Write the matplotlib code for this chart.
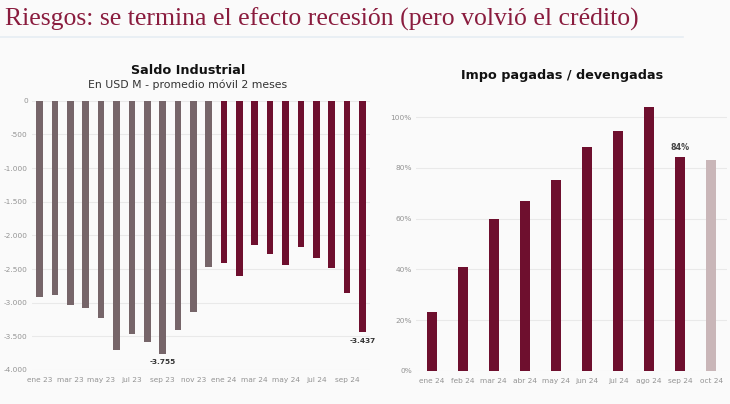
import matplotlib
matplotlib.use("Agg")
import matplotlib.pyplot as plt
from matplotlib.ticker import FuncFormatter, FixedLocator

# ---------------- data ----------------
saldo_months = ["ene 23", "feb 23", "mar 23", "abr 23", "may 23", "jun 23",
                "jul 23", "ago 23", "sep 23", "oct 23", "nov 23", "dic 23",
                "ene 24", "feb 24", "mar 24", "abr 24", "may 24", "jun 24",
                "jul 24", "ago 24", "sep 24", "oct 24"]
saldo_values = [-2910, -2890, -3040, -3080, -3230, -3700, -3470, -3590, -3755,
                -3400, -3140, -2470, -2410, -2600, -2150, -2280, -2440, -2170,
                -2330, -2490, -2850, -3437]
saldo_year = ["2023"] * 12 + ["2024"] * 10

impo_months = ["ene 24", "feb 24", "mar 24", "abr 24", "may 24", "jun 24",
               "jul 24", "ago 24", "sep 24", "oct 24"]
impo_values = [0.232, 0.409, 0.598, 0.671, 0.753, 0.882, 0.946, 1.040, 0.842, 0.831]
impo_partial = [False] * 9 + [True]

# ---------------- style ----------------
W, H = 730, 404
BG = "#FAFAFA"
GREY_BAR = "#766569"
MAROON = "#6E0F2E"
LIGHT = "#C9B6B8"
TITLE_COL = "#8A1C3E"
GRID = "#E9E9E9"
TICK_COL = "#939393"
FONT = "DejaVu Sans"

fig = plt.figure(figsize=(W / 100, H / 100), dpi=100, facecolor=BG)


def px_axes(x0, x1, ytop, ybot):
    return fig.add_axes([x0 / W, 1 - ybot / H, (x1 - x0) / W, (ybot - ytop) / H])


# main title + separator line
fig.text(5 / W, 1 - 19 / H,
         "Riesgos: se termina el efecto recesión (pero volvió el crédito)",
         family="Liberation Serif", fontsize=18.5, color=TITLE_COL,
         va="center", ha="left")
fig.add_artist(plt.Line2D([0, 683 / W], [1 - 37 / H, 1 - 37 / H],
                          color="#E6EDF3", lw=1.2))

# ---------------- left chart ----------------
ax1 = px_axes(32, 370, 100.7, 370)
ax1.set_facecolor(BG)
x1 = list(range(len(saldo_values)))
cols1 = [GREY_BAR if y == "2023" else MAROON for y in saldo_year]
ax1.bar(x1, saldo_values, width=0.43, color=cols1, zorder=3)
ax1.set_xlim(-0.5, len(saldo_values) - 0.5)
ax1.set_ylim(-4000, 0)
ax1.yaxis.set_major_locator(FixedLocator(list(range(-4000, 1, 500))))
ax1.yaxis.set_major_formatter(
    FuncFormatter(lambda v, p: f"{int(v):,}".replace(",", ".")))
ax1.set_xticks(x1[::2])
ax1.set_xticklabels(saldo_months[::2])
ax1.grid(axis="y", color=GRID, lw=0.8, zorder=0)
for s in ax1.spines.values():
    s.set_visible(False)
ax1.tick_params(length=0, labelsize=5.3, colors=TICK_COL, pad=3)
ax1.tick_params(axis="x", pad=5)
for lab in ax1.get_xticklabels() + ax1.get_yticklabels():
    lab.set_family(FONT)

for i in (8, 21):
    v = saldo_values[i]
    ax1.annotate(f"{v:,}".replace(",", "."), (x1[i], v), xytext=(0, -4),
                 textcoords="offset points", ha="center", va="top",
                 fontsize=5.3, fontweight="bold", color="#333333", family=FONT)

fig.text(188 / W, 1 - 70 / H, "Saldo Industrial", ha="center", va="center",
         fontsize=9.2, fontweight="bold", color="#111111", family=FONT)
fig.text(188 / W, 1 - 85 / H, "En USD M - promedio móvil 2 meses",
         ha="center", va="center", fontsize=7.8, color="#333333", family=FONT)

# ---------------- right chart ----------------
ax2 = px_axes(416, 727, 91.9, 370.7)
ax2.set_facecolor(BG)
x2 = list(range(len(impo_values)))
cols2 = [LIGHT if p else MAROON for p in impo_partial]
ax2.bar(x2, impo_values, width=0.32, color=cols2, zorder=3)
ax2.set_xlim(-0.5, len(impo_values) - 0.5)
ax2.set_ylim(0, 1.1)
ax2.yaxis.set_major_locator(FixedLocator([0, 0.2, 0.4, 0.6, 0.8, 1.0]))
ax2.yaxis.set_major_formatter(FuncFormatter(lambda v, p: f"{v * 100:.0f}%"))
ax2.set_xticks(x2)
ax2.set_xticklabels(impo_months)
ax2.grid(axis="y", color=GRID, lw=0.8, zorder=0)
for s in ax2.spines.values():
    s.set_visible(False)
ax2.tick_params(length=0, labelsize=5.3, colors=TICK_COL, pad=3)
ax2.tick_params(axis="x", pad=5)
for lab in ax2.get_xticklabels() + ax2.get_yticklabels():
    lab.set_family(FONT)

i = 8
ax2.annotate(f"{impo_values[i] * 100:.0f}%", (x2[i], impo_values[i]),
             xytext=(0, 4), textcoords="offset points", ha="center",
             va="bottom", fontsize=5.8, fontweight="bold", color="#444444",
             family=FONT)

fig.text(562 / W, 1 - 75 / H, "Impo pagadas / devengadas", ha="center",
         va="center", fontsize=9.2, fontweight="bold", color="#111111",
         family=FONT)

fig.savefig("out.png", dpi=100, facecolor=BG)
